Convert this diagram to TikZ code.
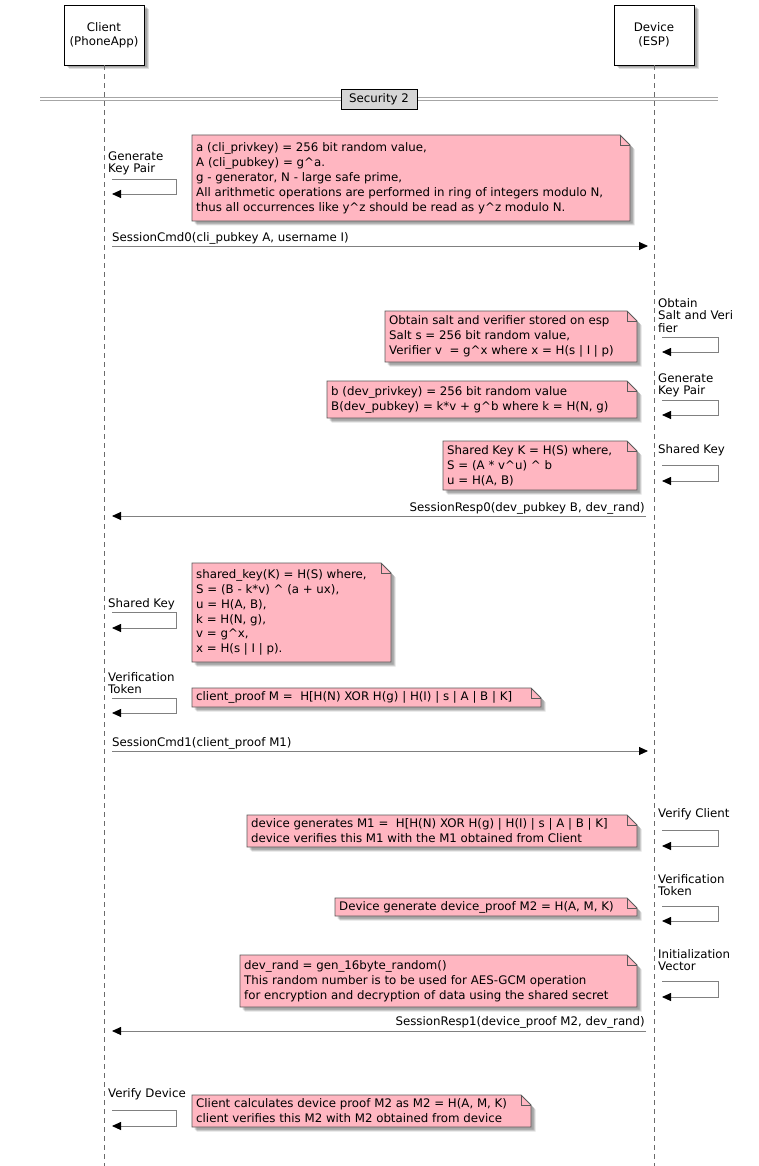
\documentclass[tikz,border=0pt]{standalone}
\usepackage{fontspec}
\setmainfont{DejaVu Sans}
\usetikzlibrary{arrows.meta,shadows}
\definecolor{notepink}{HTML}{FFB6C1}
\definecolor{notebd}{HTML}{5A5A5A}
\definecolor{linegrey}{HTML}{808080}
\definecolor{lifegrey}{HTML}{6A6A6A}
\definecolor{sepfill}{HTML}{D6D6D6}
\tikzset{
  shad/.style={
    drop shadow={shadow xshift=2.5pt,shadow yshift=-2.5pt,fill=black,opacity=0.14},
    drop shadow={shadow xshift=3.5pt,shadow yshift=-3.5pt,fill=black,opacity=0.14},
    drop shadow={shadow xshift=4.5pt,shadow yshift=-4.5pt,fill=black,opacity=0.12}},
  part/.style={draw=black,fill=white,line width=0.9pt,minimum width=80pt,minimum height=60pt,
    align=center,inner sep=0pt,shad,font=\fontsize{11.8}{14}\selectfont},
  lifeline/.style={draw=lifegrey,line width=0.8pt,dash pattern=on 5pt off 4pt},
  msg/.style={draw=linegrey,line width=0.9pt,-{Triangle[length=9pt,width=8pt,color=black]}},
  msgtext/.style={inner sep=0pt,font=\fontsize{11.8}{14}\selectfont},
  selftext/.style={inner sep=0pt,anchor=north west,align=left,font=\fontsize{11.8}{12.4}\selectfont},
  notetext/.style={inner sep=0pt,anchor=west,align=left,font=\fontsize{11.8}{14.9}\selectfont},
  notebody/.style={fill=notepink,draw=notebd,line width=0.8pt,shad},
  sepline/.style={draw=gray!70,line width=1pt},
}
\newcommand\seqnote[6]{%
  \path[notebody] (#2,#3) -- ({#4-10},#3) -- (#4,{#3+10}) -- (#4,#5) -- (#2,#5) -- cycle;
  \draw[notebd,line width=0.8pt] ({#4-10},#3) -- ({#4-10},{#3+10}) -- (#4,{#3+10});
  \node[notetext] (#1) at ({#2+4},{(#3+#5)/2}) {#6};
}
\newcommand\fs{\rule{0pt}{9pt}}
\begin{document}
\begin{tikzpicture}[x=1pt,y=-1pt]
\useasboundingbox (0,0) rectangle (758,1166);
\fill[white] (0,0) rectangle (758,1166);

% participants
\node[part] (cli) at (104,35) {Client\\(PhoneApp)};
\node[part] (dev) at (654,35) {Device\\(ESP)};
\coordinate (cliend) at (104,1166);
\coordinate (devend) at (654,1166);
\draw[lifeline] (cli.south) -- (cliend);
\draw[lifeline] (dev.south) -- (devend);

% separator
\coordinate (sepl1) at (40,97.5);
\coordinate (sepr1) at (718,97.5);
\coordinate (sepl2) at (40,100.5);
\coordinate (sepr2) at (718,100.5);
\draw[sepline] (sepl1) -- (sepr1);
\draw[sepline] (sepl2) -- (sepr2);
\node[draw=black,fill=sepfill,line width=0.8pt,minimum width=76pt,minimum height=20pt,inner sep=0pt,
  font=\fontsize{11.8}{14}\selectfont] (sec) at (379,99) {Security 2};

% --- Client: Generate Key Pair
\node[selftext] (t1) at (108,151) {\fs Generate\\Key Pair};
\coordinate (a1) at (112,179); \coordinate (b1) at (176,179);
\coordinate (c1) at (176,194); \coordinate (e1) at (112,194);
\draw[msg] (a1) -- (b1) -- (c1) -- (e1);
\seqnote{n1}{192}{135}{630}{221}{a (cli\_privkey) = 256 bit random value,\\A (cli\_pubkey) = g\textasciicircum a.\\g - generator, N - large safe prime,\\All arithmetic operations are performed in ring of integers modulo N,\\thus all occurrences like y\textasciicircum z should be read as y\textasciicircum z modulo N.}

% SessionCmd0
\coordinate (m1a) at (112,246); \coordinate (m1b) at (648,246);
\draw[msg] (m1a) -- (m1b);
\node[msgtext,anchor=base west] (l1) at (112,242) {SessionCmd0(cli\_pubkey A, username I)};

% --- Device: Obtain salt and verifier
\node[selftext] (t2) at (658,298) {\fs Obtain\\Salt and Veri\\fier};
\coordinate (a2) at (662,337); \coordinate (b2) at (718,337);
\coordinate (c2) at (718,352); \coordinate (e2) at (662,352);
\draw[msg] (a2) -- (b2) -- (c2) -- (e2);
\seqnote{n2}{385}{311}{637}{362}{Obtain salt and verifier stored on esp\\Salt s = 256 bit random value,\\Verifier v\ \ = g\textasciicircum x where x = H(s | I | p)}

% --- Device: Generate Key Pair
\node[selftext] (t3) at (658,373) {\fs Generate\\Key Pair};
\coordinate (a3) at (662,400); \coordinate (b3) at (718,400);
\coordinate (c3) at (718,415); \coordinate (e3) at (662,415);
\draw[msg] (a3) -- (b3) -- (c3) -- (e3);
\seqnote{n3}{327}{381}{637}{418}{b (dev\_privkey) = 256 bit random value\\B(dev\_pubkey) = k*v + g\textasciicircum b where k = H(N, g)}

% --- Device: Shared Key
\node[selftext] (t4) at (658,444) {\fs Shared Key};
\coordinate (a4) at (662,465); \coordinate (b4) at (718,465);
\coordinate (c4) at (718,481); \coordinate (e4) at (662,481);
\draw[msg] (a4) -- (b4) -- (c4) -- (e4);
\seqnote{n4}{443}{441}{637}{490}{Shared Key K = H(S) where,\\S = (A * v\textasciicircum u) \textasciicircum{} b\\u = H(A, B)}

% SessionResp0
\coordinate (m2a) at (646,516); \coordinate (m2b) at (112,516);
\draw[msg] (m2a) -- (m2b);
\node[msgtext,anchor=base east] (l2) at (645,511) {SessionResp0(dev\_pubkey B, dev\_rand)};

% --- Client: Shared Key
\node[selftext] (t5) at (108,598) {\fs Shared Key};
\coordinate (a5) at (112,612); \coordinate (b5) at (176,612);
\coordinate (c5) at (176,628); \coordinate (e5) at (112,628);
\draw[msg] (a5) -- (b5) -- (c5) -- (e5);
\seqnote{n5}{192}{563}{391}{662}{shared\_key(K) = H(S) where,\\S = (B - k*v) \textasciicircum{} (a + ux),\\u = H(A, B),\\k = H(N, g),\\v = g\textasciicircum x,\\x = H(s | I | p).}

% --- Client: Verification Token
\node[selftext] (t6) at (108,672) {\fs Verification\\Token};
\coordinate (a6) at (112,698); \coordinate (b6) at (176,698);
\coordinate (c6) at (176,713); \coordinate (e6) at (112,713);
\draw[msg] (a6) -- (b6) -- (c6) -- (e6);
\seqnote{n6}{192}{688}{541}{707}{client\_proof M = \ H[H(N) XOR H(g) | H(I) | s | A | B | K]}

% SessionCmd1
\coordinate (m3a) at (112,751); \coordinate (m3b) at (648,751);
\draw[msg] (m3a) -- (m3b);
\node[msgtext,anchor=base west] (l3) at (112,746) {SessionCmd1(client\_proof M1)};

% --- Device: Verify Client
\node[selftext] (t7) at (658,808) {\fs Verify Client};
\coordinate (a7) at (662,830); \coordinate (b7) at (718,830);
\coordinate (c7) at (718,846); \coordinate (e7) at (662,846);
\draw[msg] (a7) -- (b7) -- (c7) -- (e7);
\seqnote{n7}{247}{815}{637}{847}{device generates M1 = \ H[H(N) XOR H(g) | H(I) | s | A | B | K]\\device verifies this M1 with the M1 obtained from Client}

% --- Device: Verification Token
\node[selftext] (t8) at (658,874) {\fs Verification\\Token};
\coordinate (a8) at (662,906); \coordinate (b8) at (718,906);
\coordinate (c8) at (718,921); \coordinate (e8) at (662,921);
\draw[msg] (a8) -- (b8) -- (c8) -- (e8);
\seqnote{n8}{335}{898}{637}{916}{Device generate device\_proof M2 = H(A, M, K)}

% --- Device: Initialization Vector
\node[selftext] (t9) at (658,949) {\fs Initialization\\Vector};
\coordinate (a9) at (662,981); \coordinate (b9) at (718,981);
\coordinate (c9) at (718,997); \coordinate (e9) at (662,997);
\draw[msg] (a9) -- (b9) -- (c9) -- (e9);
\seqnote{n9}{240}{955}{637}{1007}{dev\_rand = gen\_16byte\_random()\\This random number is to be used for AES-GCM operation\\for encryption and decryption of data using the shared secret}

% SessionResp1
\coordinate (m4a) at (646,1031); \coordinate (m4b) at (112,1031);
\draw[msg] (m4a) -- (m4b);
\node[msgtext,anchor=base east] (l4) at (645,1025) {SessionResp1(device\_proof M2, dev\_rand)};

% --- Client: Verify Device
\node[selftext] (t10) at (108,1088) {\fs Verify Device};
\coordinate (a10) at (112,1110); \coordinate (b10) at (176,1110);
\coordinate (c10) at (176,1126); \coordinate (e10) at (112,1126);
\draw[msg] (a10) -- (b10) -- (c10) -- (e10);
\seqnote{n10}{192}{1095}{531}{1127}{Client calculates device proof M2 as M2 = H(A, M, K)\\client verifies this M2 with M2 obtained from device}
\end{tikzpicture}
\end{document}
